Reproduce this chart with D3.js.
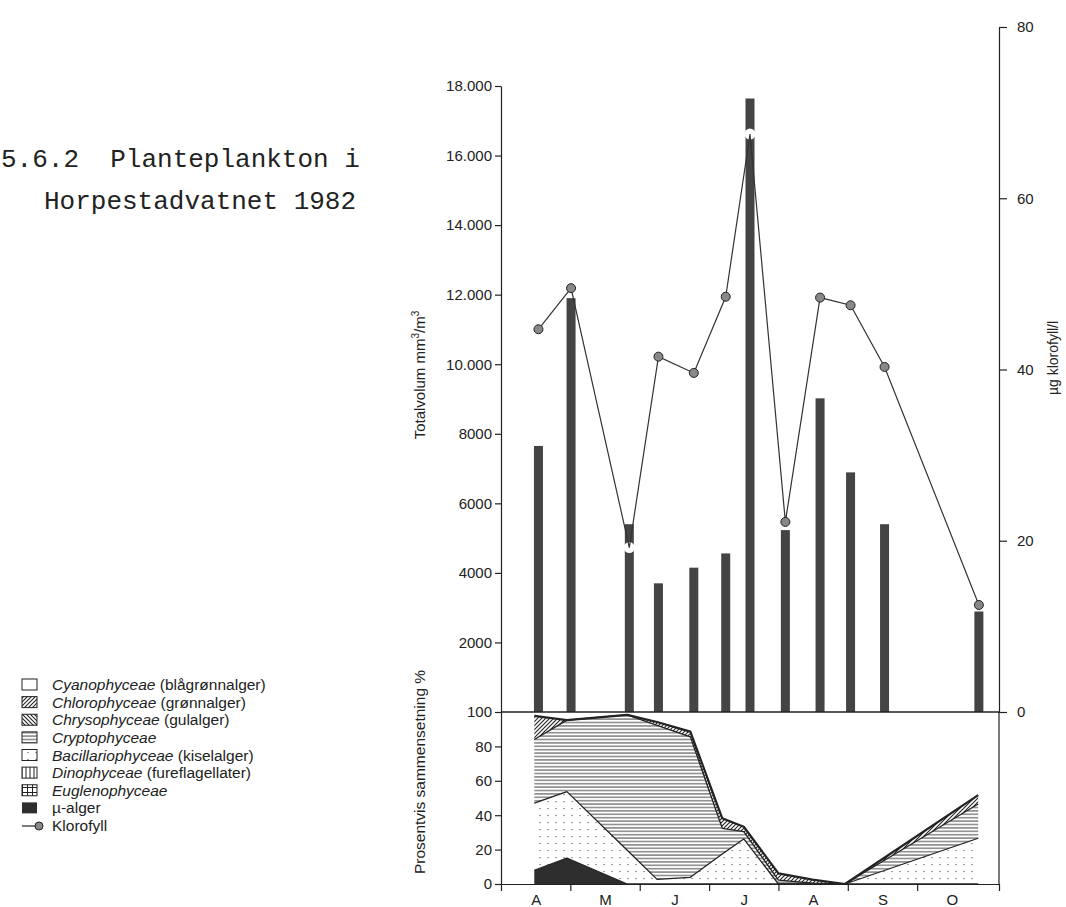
<!DOCTYPE html>
<html>
<head>
<meta charset="utf-8">
<title>Planteplankton i Horpestadvatnet 1982</title>
<style>
  body { margin: 0; background: #fff; }
  svg { display: block; }
  text { font-family: "Liberation Sans", Arial, sans-serif; fill: #222; }
  text.mono { font-family: "Liberation Mono", "Courier New", monospace; font-size: 26px; }
  .axis path, .axis line { stroke: #222; stroke-width: 1.2; }
  .axis text { font-size: 15px; fill: #222; }
</style>
</head>
<body>
<script src="https://d3js.org/d3.v7.min.js"></script>
<svg id="chart" width="1066" height="907"></svg>
<script>
// prøvedatoer som månedsnummer (4 = 1. april)
var sampleMonth = [4.54, 5.01, 5.85, 6.27, 6.78, 7.24, 7.59, 8.10, 8.60, 9.04, 9.53, 10.89];
var totalVolum  = [7650, 11900, 5400, 3700, 4150, 4560, 17640, 5230, 9020, 6890, 5400, 2890];
var klorofyll   = [44.7, 49.5, 19.2, 41.5, 39.6, 48.5, 67.5, 22.2, 48.4, 47.5, 40.3, 12.5];
var breakAt = [2, 6];   // stolper med brudd der klorofyll-linja snur

// prosentvis sammensetning
var compMonth  = [4.48, 4.95, 5.82, 6.25, 6.73, 7.19, 7.50, 8.00, 8.49, 8.96, 10.88];
var muAlger    = [8, 15, 0, 0, 0, 0, 0, 0, 0, 0, 0];
var bacillario = [39, 38.7, 19.6, 2.7, 3.9, 17.4, 26.2, 0, 0, 0, 26.6];
var cryptoph   = [37, 41.6, 78.7, 89.5, 81.7, 15, 4.2, 2.3, 0.5, 0, 19.9];
var chloroph   = [13.7, 0, 0, 2, 3, 5.8, 2.9, 3.9, 2, 0, 5.2];

var monthLabels = ["A", "M", "J", "J", "A", "S", "O"];
var monthTicks = [5, 6, 7, 8, 9, 10];
var volTicks = [2000, 4000, 6000, 8000, 10000, 12000, 14000, 16000, 18000];
var chlTicks = [0, 20, 40, 60, 80];
var pctTicks = [0, 20, 40, 60, 80, 100];

var legendNames = ["Cyanophyceae", "Chlorophyceae", "Chrysophyceae", "Cryptophyceae",
                   "Bacillariophyceae", "Dinophyceae", "Euglenophyceae"];
var legendNotes = [" (blågrønnalger)", " (grønnalger)", " (gulalger)", "",
                   " (kiselalger)", " (fureflagellater)", ""];
var legendFill = ["#fff", "url(#p-fwd)", "url(#p-back)", "url(#p-hl)",
                  "url(#p-dot)", "url(#p-vl)", "url(#p-grid)"];

var svg = d3.select("#chart");
var ink = "#222";

// mønstre
var defs = svg.append("defs");
function pattern(id, w, h) {
    var p = defs.append("pattern").attr("id", id).attr("patternUnits", "userSpaceOnUse")
        .attr("width", w).attr("height", h);
    p.append("rect").attr("width", w).attr("height", h).attr("fill", "#fff");
    return p;
}
pattern("p-dot", 8, 7).append("rect").attr("x", 3.5).attr("y", 3).attr("width", 1.1).attr("height", 1.1).attr("fill", "#555");
pattern("p-hl", 6, 3.4).append("line").attr("x1", 0).attr("x2", 6).attr("y1", 1.7).attr("y2", 1.7)
    .attr("stroke", "#333").attr("stroke-width", 0.9);
pattern("p-fwd", 4, 4).append("path").attr("d", "M-1,1 l2,-2 M0,4 l4,-4 M3,5 l2,-2")
    .attr("stroke", "#222").attr("stroke-width", 1.1);
pattern("p-back", 4, 4).append("path").attr("d", "M-1,3 l2,2 M0,0 l4,4 M3,-1 l2,2")
    .attr("stroke", "#222").attr("stroke-width", 1.1);
pattern("p-vl", 4, 4).append("line").attr("x1", 2).attr("x2", 2).attr("y1", 0).attr("y2", 4)
    .attr("stroke", "#222").attr("stroke-width", 1);
var pg = pattern("p-grid", 5, 5);
pg.append("path").attr("d", "M2.5,0 v5 M0,2.5 h5").attr("stroke", "#222").attr("stroke-width", 1);

// skalaer
var x = d3.scaleLinear().domain([4, 11.18]).range([501, 999]);
var yVol = d3.scaleLinear().domain([0, 18000]).range([712, 86]);
var yChl = d3.scaleLinear().domain([0, 80]).range([712, 27]);
var yPct = d3.scaleLinear().domain([0, 100]).range([884, 712]);

// tittel
svg.append("text").attr("class", "mono").attr("x", 1).attr("y", 167).text("5.6.2\u00a0\u00a0Planteplankton i");
svg.append("text").attr("class", "mono").attr("x", 44).attr("y", 209).text("Horpestadvatnet 1982");

// prosentvis sammensetning (stablet)
var rows = compMonth.map(function(m, i) {
    return { m: m, mu: muAlger[i], bac: bacillario[i], cry: cryptoph[i], chl: chloroph[i] };
});
var keys = ["mu", "bac", "cry", "chl"];
var fills = { mu: "#2e2e2e", bac: "url(#p-dot)", cry: "url(#p-hl)", chl: "url(#p-fwd)" };
var stack = d3.stack().keys(keys)(rows);

var area = d3.area()
    .x(function(d) { return x(d.data.m); })
    .y0(function(d) { return yPct(d[0]); })
    .y1(function(d) { return yPct(d[1]); });
var topLine = d3.line()
    .x(function(d) { return x(d.data.m); })
    .y(function(d) { return yPct(d[1]); });

var comp = svg.append("g");
comp.selectAll("path.layer").data(stack).enter().append("path")
    .attr("class", "layer")
    .attr("d", area)
    .attr("fill", function(s) { return fills[s.key]; });
comp.selectAll("path.edge").data(stack).enter().append("path")
    .attr("class", "edge")
    .attr("d", topLine)
    .attr("fill", "none")
    .attr("stroke", ink)
    .attr("stroke-width", function(s, i) { return i === stack.length - 1 ? 2.2 : 1.3; })
    .attr("stroke-linejoin", "round");

// stolper totalvolum
svg.append("g").selectAll("rect").data(totalVolum).enter().append("rect")
    .attr("x", function(d, i) { return x(sampleMonth[i]) - 4.5; })
    .attr("y", function(d) { return yVol(d); })
    .attr("width", 9)
    .attr("height", function(d) { return yVol(0) - yVol(d); })
    .attr("fill", "#444");

// brudd i stolpene
svg.append("g").selectAll("circle").data(breakAt).enter().append("circle")
    .attr("cx", function(i) { return x(sampleMonth[i]); })
    .attr("cy", function(i) { return yChl(klorofyll[i]); })
    .attr("r", 5.5)
    .attr("fill", "#fff");

// klorofyll
var idx = d3.range(klorofyll.length);
var chlLine = d3.line()
    .x(function(i) { return x(sampleMonth[i]); })
    .y(function(i) { return yChl(klorofyll[i]); });
svg.append("path").datum(idx).attr("d", chlLine)
    .attr("fill", "none").attr("stroke", "#333").attr("stroke-width", 1.2);
svg.append("g").selectAll("circle")
    .data(idx.filter(function(i) { return breakAt.indexOf(i) < 0; }))
    .enter().append("circle")
    .attr("cx", function(i) { return x(sampleMonth[i]); })
    .attr("cy", function(i) { return yChl(klorofyll[i]); })
    .attr("r", 4.5)
    .attr("fill", "#888")
    .attr("stroke", ink)
    .attr("stroke-width", 1);

// akser
function fmtVol(d) { return d >= 10000 ? d3.format(",")(d).replace(",", ".") : String(d); }

svg.append("g").attr("class", "axis").attr("transform", "translate(501,0)")
    .call(d3.axisLeft(yVol).tickValues(volTicks).tickSize(6).tickSizeOuter(0).tickFormat(fmtVol));
svg.append("g").attr("class", "axis").attr("transform", "translate(501,0)")
    .call(d3.axisLeft(yPct).tickValues(pctTicks).tickSize(6).tickSizeOuter(0));
svg.append("g").attr("class", "axis").attr("transform", "translate(999,0)")
    .call(d3.axisRight(yChl).tickValues(chlTicks).tickSize(8).tickPadding(10).tickSizeOuter(0));

svg.append("line").attr("x1", 501).attr("x2", 999).attr("y1", yVol(0)).attr("y2", yVol(0))
    .attr("stroke", ink).attr("stroke-width", 1.3);
svg.append("line").attr("x1", 999).attr("x2", 999).attr("y1", yPct(100)).attr("y2", yPct(0))
    .attr("stroke", ink).attr("stroke-width", 1.2);

svg.append("g").attr("class", "axis").attr("transform", "translate(0,884)")
    .call(d3.axisBottom(x).tickValues(monthTicks).tickSize(7).tickSizeOuter(7).tickFormat(""));
var ml = svg.append("g").attr("class", "axis").attr("transform", "translate(0,884)")
    .call(d3.axisBottom(x).tickValues(monthTicks.concat([11]).map(function(m) { return m - 0.5; }))
        .tickSize(0).tickPadding(10)
        .tickFormat(function(d, i) { return monthLabels[i]; }));
ml.select(".domain").remove();

// aksetitler
svg.append("text").attr("transform", "translate(425,375) rotate(-90)")
    .attr("text-anchor", "middle").style("font-size", "15px")
    .html("Totalvolum mm<tspan dy='-6' font-size='10'>3</tspan><tspan dy='6'>/m</tspan><tspan dy='-6' font-size='10'>3</tspan>");
svg.append("text").attr("transform", "translate(425,772) rotate(-90)")
    .attr("text-anchor", "middle").style("font-size", "15.5px")
    .text("Prosentvis sammensetning %");
svg.append("text").attr("transform", "translate(1058,358) rotate(-90)")
    .attr("text-anchor", "middle").style("font-size", "14px")
    .text("µg klorofyll/l");

// tegnforklaring
var leg = svg.append("g").style("font-size", "15.5px");
var rowY = d3.scaleLinear().domain([0, 8]).range([685, 826]);
legendNames.forEach(function(n, i) {
    var y = rowY(i);
    leg.append("rect").attr("x", 22).attr("y", y - 6).attr("width", 15).attr("height", 11)
        .attr("fill", legendFill[i]).attr("stroke", ink).attr("stroke-width", 1);
    var t = leg.append("text").attr("x", 52).attr("y", y + 5);
    t.append("tspan").style("font-style", "italic").text(n);
    t.append("tspan").text(legendNotes[i]);
});
leg.append("rect").attr("x", 22).attr("y", rowY(7) - 6).attr("width", 15).attr("height", 11)
    .attr("fill", "#2e2e2e");
leg.append("text").attr("x", 52).attr("y", rowY(7) + 5).text("µ-alger");
leg.append("line").attr("x1", 22).attr("x2", 38).attr("y1", rowY(8)).attr("y2", rowY(8))
    .attr("stroke", ink).attr("stroke-width", 1.2);
leg.append("circle").attr("cx", 39).attr("cy", rowY(8)).attr("r", 4).attr("fill", "#888")
    .attr("stroke", ink);
leg.append("text").attr("x", 52).attr("y", rowY(8) + 5).text("Klorofyll");
</script>
</body>
</html>
